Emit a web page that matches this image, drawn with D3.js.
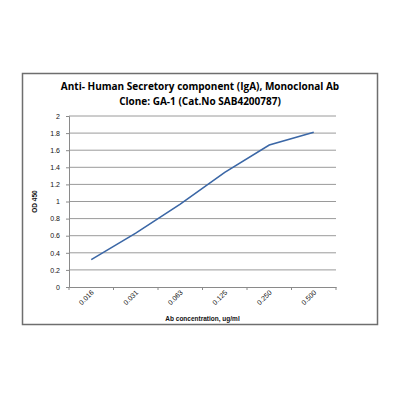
<!DOCTYPE html>
<html>
<head>
<meta charset="utf-8">
<script src="https://cdn.jsdelivr.net/npm/d3@7"></script>
<style>
  body { margin: 0; background: #fff; }
  svg { display: block; }
</style>
</head>
<body>
<svg width="400" height="400"></svg>
<script>
  const titleLines = ['Anti- Human Secretory component (IgA), Monoclonal Ab', 'Clone: GA-1 (Cat.No SAB4200787)'];
  const xAxisLabelText = 'Ab concentration, ug/ml';
  const yAxisLabelText = 'OD 450';
  const concentrations = ['0.016', '0.031', '0.063', '0.125', '0.250', '0.500'];
  const odValues = [0.32, 0.63, 0.97, 1.34, 1.66, 1.81];
  const yTicks = [0, 0.2, 0.4, 0.6, 0.8, 1, 1.2, 1.4, 1.6, 1.8, 2];

  const smallFont = '"Liberation Sans", Arial, sans-serif';
  const svg = d3.select('svg');
  const margin = { top: 116, left: 69, right: 64, bottom: 113 };
  const innerWidth = 400 - margin.left - margin.right;
  const innerHeight = 400 - margin.top - margin.bottom;

  // outer chart frame
  svg.append('rect')
    .attr('x', 22.5).attr('y', 73.5)
    .attr('width', 355).attr('height', 251)
    .attr('fill', '#fff')
    .attr('stroke', '#6e6e6e')
    .attr('stroke-width', 1.5);

  titleLines.forEach((t, i) => {
    svg.append('text')
      .attr('text-anchor', 'middle')
      .attr('font-family', '"Open Sans", sans-serif')
      .attr('font-weight', 'bold')
      .attr('font-size', 10)
      .attr('fill', '#000')
      .attr('x', 200)
      .attr('y', 90 + i * 15)
      .text(t);
  });

  const g = svg.append('g')
    .attr('transform', `translate(${margin.left},${margin.top})`);

  const xScale = d3.scaleBand()
    .domain(concentrations)
    .range([0, innerWidth]);

  const yScale = d3.scaleLinear()
    .domain([0, 2])
    .range([innerHeight, 0]);

  // horizontal gridlines
  g.append('g')
    .selectAll('line').data(yTicks.slice(1))
    .enter().append('line')
      .attr('x1', 0).attr('x2', innerWidth)
      .attr('y1', d => yScale(d)).attr('y2', d => yScale(d))
      .attr('stroke', '#9a9a9a')
      .attr('stroke-width', 1);

  const yAxisG = g.append('g')
    .call(d3.axisLeft(yScale).tickValues(yTicks).tickSize(3).tickPadding(6)
      .tickFormat(d3.format('~g')));
  yAxisG.selectAll('.domain, .tick line').attr('stroke', '#8a8a8a');
  yAxisG.attr('font-family', smallFont).attr('font-size', 7);
  yAxisG.selectAll('text').attr('fill', '#111');

  const xAxisG = g.append('g')
    .attr('transform', `translate(0,${innerHeight})`)
    .call(d3.axisBottom(xScale).tickValues([]).tickSizeOuter(0));
  xAxisG.select('.domain').attr('stroke', '#8a8a8a');

  // ticks between categories
  xAxisG.selectAll('line.sep')
    .data(d3.range(concentrations.length + 1))
    .enter().append('line')
      .attr('class', 'sep')
      .attr('x1', i => i * xScale.step()).attr('x2', i => i * xScale.step())
      .attr('y1', 0).attr('y2', 3)
      .attr('stroke', '#8a8a8a');

  xAxisG.selectAll('text.lab').data(concentrations)
    .enter().append('text')
      .attr('class', 'lab')
      .attr('text-anchor', 'end')
      .attr('font-family', smallFont)
      .attr('font-size', 7)
      .attr('fill', '#111')
      .attr('transform', d => `translate(${xScale(d) + xScale.bandwidth() / 2 + 3},${6}) rotate(-45)`)
      .text(d => d);

  const line = d3.line()
    .x((d, i) => xScale(concentrations[i]) + xScale.bandwidth() / 2)
    .y(d => yScale(d));

  g.append('path')
    .datum(odValues)
    .attr('d', line)
    .attr('fill', 'none')
    .attr('stroke', '#3b67a6')
    .attr('stroke-width', 1.6);

  g.append('text')
    .attr('text-anchor', 'middle')
    .attr('font-family', smallFont)
    .attr('font-weight', 'bold')
    .attr('font-size', 6.5)
    .attr('fill', '#111')
    .attr('x', innerWidth / 2)
    .attr('y', innerHeight + 34)
    .text(xAxisLabelText);

  g.append('text')
    .attr('text-anchor', 'middle')
    .attr('font-family', smallFont)
    .attr('font-weight', 'bold')
    .attr('font-size', 6.5)
    .attr('fill', '#111')
    .attr('transform', `translate(-32,${innerHeight / 2}) rotate(-90)`)
    .text(yAxisLabelText);
</script>
</body>
</html>
